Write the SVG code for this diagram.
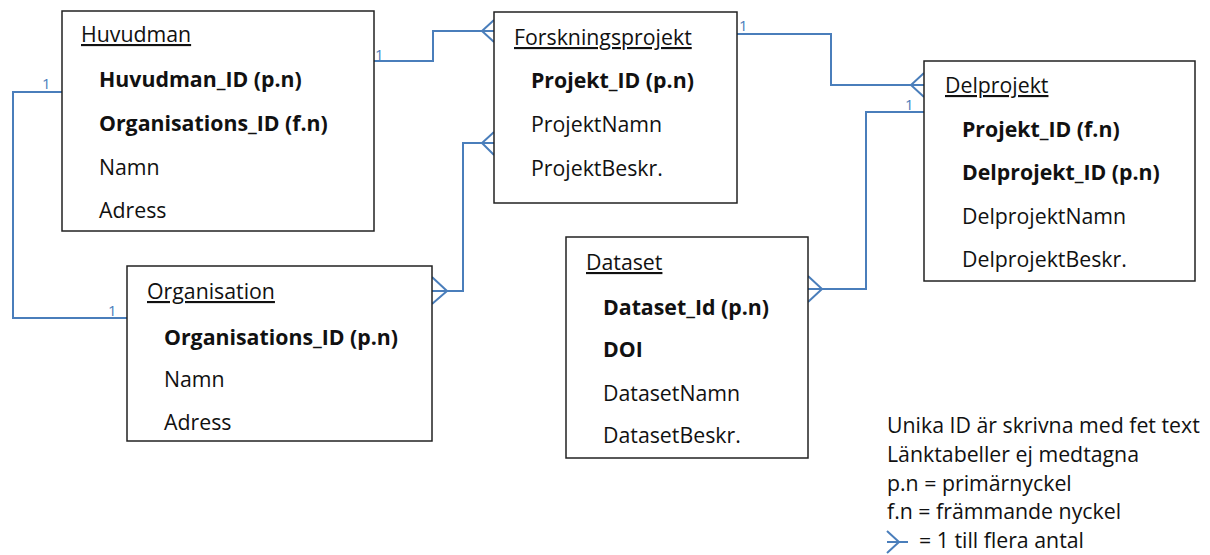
<svg xmlns="http://www.w3.org/2000/svg" width="1210" height="555" viewBox="0 0 1210 555">
<style>
  .box { fill: #ffffff; stroke: #222222; stroke-width: 1.5; }
  .t { font-family: "Open Sans", "Noto Sans", "Liberation Sans", sans-serif; font-size: 21.3px; fill: #111111; }
  .title { text-decoration: underline; }
  .b { font-weight: bold; }
  .conn { fill: none; stroke: #4a7ebb; stroke-width: 2; }
  .one { font-family: "Open Sans", "Noto Sans", "Liberation Sans", sans-serif; font-size: 15px; fill: #4a7ebb; }
</style>
<rect width="1210" height="555" fill="#ffffff"/>
<g id="connectors">
  <path class="conn" d="M374,61 H433 V31 H494 M494,20 L482,31 L494,42"/>
  <path class="conn" d="M432,291 H463 V143 H494 M494,132 L482,143 L494,155 M432,277 L447,291 L432,304"/>
  <path class="conn" d="M62,92 H13 V318 H127"/>
  <path class="conn" d="M737,34 H831 V85 H924 M924,73 L911,85 L924,97"/>
  <path class="conn" d="M924,112 H866 V289 H808 M808,276 L822,289 L808,302"/>
  <text class="one" x="375" y="60">1</text>
  <text class="one" x="42" y="89">1</text>
  <text class="one" x="108" y="316">1</text>
  <text class="one" x="739" y="31">1</text>
  <text class="one" x="905" y="110">1</text>
</g>
<g id="huvudman">
  <rect class="box" x="62" y="11" width="312" height="220"/>
  <text class="t title" x="81" y="42">Huvudman</text>
  <text class="t b" x="99" y="87">Huvudman_ID (p.n)</text>
  <text class="t b" x="99" y="131">Organisations_ID (f.n)</text>
  <text class="t" x="99" y="175">Namn</text>
  <text class="t" x="99" y="218">Adress</text>
</g>
<g id="forskningsprojekt">
  <rect class="box" x="494" y="12" width="243" height="191"/>
  <text class="t title" x="514" y="45">Forskningsprojekt</text>
  <text class="t b" x="531" y="88">Projekt_ID (p.n)</text>
  <text class="t" x="531" y="132">ProjektNamn</text>
  <text class="t" x="531" y="176">ProjektBeskr.</text>
</g>
<g id="delprojekt">
  <rect class="box" x="924" y="61" width="271" height="220"/>
  <text class="t title" x="945" y="93">Delprojekt</text>
  <text class="t b" x="962" y="137">Projekt_ID (f.n)</text>
  <text class="t b" x="962" y="180">Delprojekt_ID (p.n)</text>
  <text class="t" x="962" y="224">DelprojektNamn</text>
  <text class="t" x="962" y="267">DelprojektBeskr.</text>
</g>
<g id="organisation">
  <rect class="box" x="127" y="266" width="305" height="175"/>
  <text class="t title" x="147" y="299">Organisation</text>
  <text class="t b" x="164" y="345">Organisations_ID (p.n)</text>
  <text class="t" x="164" y="387">Namn</text>
  <text class="t" x="164" y="430">Adress</text>
</g>
<g id="dataset">
  <rect class="box" x="566" y="237" width="242" height="221"/>
  <text class="t title" x="586" y="270">Dataset</text>
  <text class="t b" x="603" y="315">Dataset_Id (p.n)</text>
  <text class="t b" x="603" y="357">DOI</text>
  <text class="t" x="603" y="401">DatasetNamn</text>
  <text class="t" x="603" y="443">DatasetBeskr.</text>
</g>
<g id="legend">
  <text class="t" x="887" y="433">Unika ID är skrivna med fet text</text>
  <text class="t" x="887" y="462">Länktabeller ej medtagna</text>
  <text class="t" x="887" y="491">p.n = primärnyckel</text>
  <text class="t" x="887" y="519">f.n = främmande nyckel</text>
  <path class="conn" stroke-width="1.5" d="M887,531 L899,542 L887,553 M887,542 H908"/>
  <text class="t" x="919" y="548">= 1 till flera antal</text>
</g>
</svg>
